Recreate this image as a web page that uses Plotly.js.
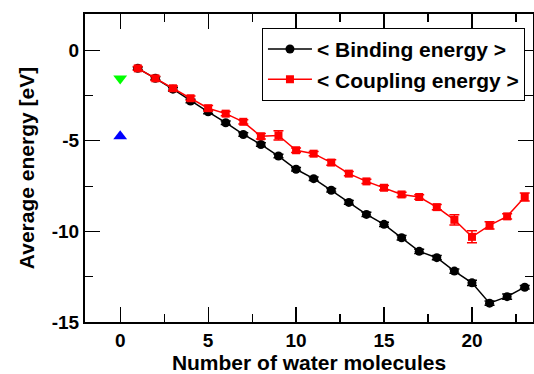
<!DOCTYPE html>
<html>
<head>
<meta charset="utf-8">
<script src="https://cdn.plot.ly/plotly-3.0.1.min.js"></script>
<style>html,body{margin:0;padding:0;background:#fff;}#chart{width:534px;height:374px;}</style>
</head>
<body>
<div id="chart"></div>
<script>
const nWater = [1,2,3,4,5,6,7,8,9,10,11,12,13,14,15,16,17,18,19,20,21,22,23];
const bindingEnergy = [-1.0,-1.55,-2.15,-2.8,-3.4,-4.0,-4.65,-5.2,-5.84,-6.57,-7.09,-7.73,-8.4,-9.06,-9.61,-10.35,-11.1,-11.45,-12.19,-12.84,-13.96,-13.6,-13.08];
const bindingErr = [0.08,0.08,0.1,0.1,0.1,0.1,0.1,0.1,0.1,0.1,0.1,0.1,0.1,0.12,0.12,0.12,0.12,0.12,0.12,0.15,0.12,0.15,0.1];
const couplingEnergy = [-1.0,-1.55,-2.1,-2.65,-3.2,-3.5,-3.95,-4.75,-4.7,-5.52,-5.71,-6.2,-6.81,-7.24,-7.59,-7.96,-8.1,-8.66,-9.36,-10.3,-9.67,-9.17,-8.1];
const couplingErr = [0.1,0.12,0.12,0.12,0.15,0.12,0.12,0.15,0.26,0.12,0.12,0.15,0.12,0.12,0.12,0.12,0.12,0.15,0.28,0.33,0.2,0.15,0.22];
const greenX = [0], greenY = [-1.56];
const blueX = [0], blueY = [-4.75];
const xTicks = [0,5,10,15,20];
const yTicks = [0,-5,-10,-15];
const bold = s => '<b>' + s + '</b>';

const font = {family: 'Liberation Sans, Arial, sans-serif', color: '#000'};
const traces = [
  {x: nWater, y: bindingEnergy, mode: 'lines+markers', name: bold('&lt; Binding energy &gt;'),
   line: {color: '#000', width: 1.5}, marker: {color: '#000', size: 9, symbol: 'circle'},
   error_y: {type: 'data', array: bindingErr, visible: true, color: '#000', thickness: 1.5, width: 5}},
  {x: nWater, y: couplingEnergy, mode: 'lines+markers', name: bold('&lt; Coupling energy &gt;'),
   line: {color: '#ff0000', width: 1.5}, marker: {color: '#ff0000', size: 8, symbol: 'square'},
   error_y: {type: 'data', array: couplingErr, visible: true, color: '#ff0000', thickness: 1.5, width: 5}},
  {x: greenX, y: greenY, mode: 'markers', showlegend: false,
   marker: {color: '#00ff00', size: 12, symbol: 'triangle-down'}},
  {x: blueX, y: blueY, mode: 'markers', showlegend: false,
   marker: {color: '#0000ff', size: 12, symbol: 'triangle-up'}}
];
const axisCommon = {
  showgrid: false, zeroline: false, showline: true, linecolor: '#000', linewidth: 2,
  mirror: 'ticks', ticks: 'inside', ticklen: 15, tickwidth: 1.2, tickcolor: '#000',
  tickfont: Object.assign({size: 19}, font)
};
const layout = {
  width: 534, height: 374,
  margin: {l: 85, r: 1, t: 14, b: 52},
  paper_bgcolor: '#fff', plot_bgcolor: '#fff',
  font: font,
  xaxis: Object.assign({}, axisCommon, {
    range: [-2, 23.47], tickmode: 'array', tickvals: xTicks, ticktext: xTicks.map(v => bold(v)),
    minor: {dtick: 2.5, tick0: 0, ticks: 'inside', ticklen: 8, tickwidth: 1.2, tickcolor: '#000'},
    title: {text: bold('Number of water molecules'), font: Object.assign({size: 21}, font), standoff: 7}
  }),
  yaxis: Object.assign({}, axisCommon, {
    range: [-15, 2], tickmode: 'array', tickvals: yTicks, ticktext: yTicks.map(v => bold(v)),
    minor: {dtick: 2.5, tick0: 0, ticks: 'inside', ticklen: 8, tickwidth: 1.2, tickcolor: '#000'},
    title: {text: bold('Average energy [eV]'), font: Object.assign({size: 21}, font), standoff: 11}
  }),
  showlegend: true,
  legend: {x: 0.395, y: 0.955, xanchor: 'left', yanchor: 'top', bgcolor: '#fff',
    bordercolor: '#000', borderwidth: 1, tracegroupgap: 0, itemwidth: 44,
    font: Object.assign({size: 21}, font)}
};
Plotly.newPlot('chart', traces, layout, {staticPlot: true, displayModeBar: false});
</script>
</body>
</html>
